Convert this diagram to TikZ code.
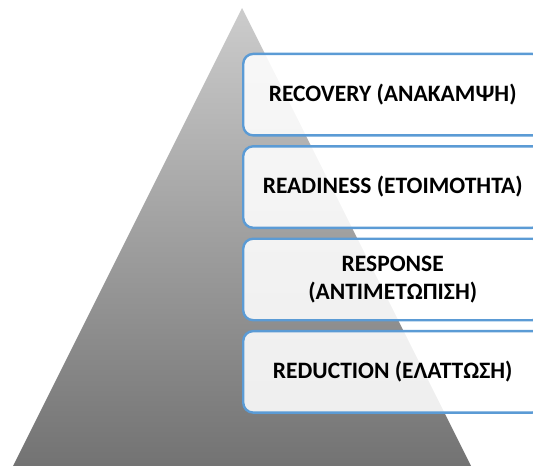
\documentclass[tikz,border=0pt]{standalone}
\usepackage{fontspec}
\setmainfont{Carlito}
\begin{document}
\begin{tikzpicture}[x=1pt,y=-1pt,
  tier/.style={draw=tierblue, line width=2.4pt, rounded corners=10pt,
    fill=white, fill opacity=0.88, text opacity=1,
    minimum width=299pt, minimum height=81.5pt, anchor=north west,
    inner sep=0pt, align=center, text=black,
    font=\fontsize{23.5}{28}\selectfont\bfseries}]
\definecolor{tierblue}{HTML}{5B9BD5}
\useasboundingbox (0,0) rectangle (533,466);
\clip (0,0) rectangle (533,466);
\path[top color=black!20, bottom color=black!55, shading angle=0]
  (242,8) -- (471,466) -- (13,466) -- cycle;
\node[tier] (recovery) at (242,52.7) {RECOVERY (ΑΝΑΚΑΜΨΗ)};
\node[tier] (readiness) at (242,145.1) {READINESS (ΕΤΟΙΜΟΤΗΤΑ)};
\node[tier] (response) at (242,237.5) {RESPONSE\\(ΑΝΤΙΜΕΤΩΠΙΣΗ)};
\node[tier] (reduction) at (242,329.9) {REDUCTION (ΕΛΑΤΤΩΣΗ)};
\end{tikzpicture}
\end{document}
